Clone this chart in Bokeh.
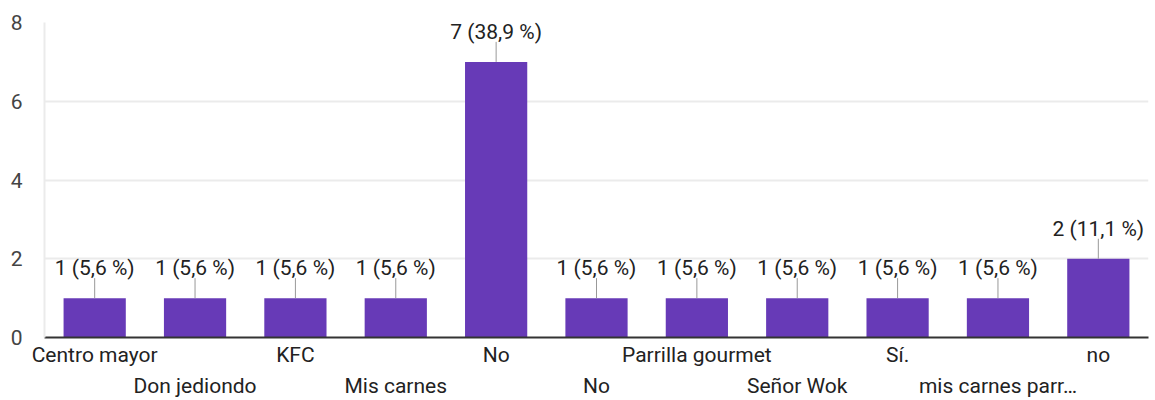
from bokeh.plotting import figure
from bokeh.models import Range1d, FixedTicker, ColumnDataSource
from bokeh.core.properties import value
from bokeh.embed import file_html
from bokeh.resources import INLINE

# Answers and how many people gave each one
categories = ["Centro mayor", "Don jediondo", "KFC", "Mis carnes", "No", "No",
              "Parrilla gourmet", "Señor Wok", "Sí.", "mis carnes parr…", "no"]
counts = [1, 1, 1, 1, 7, 1, 1, 1, 1, 1, 2]
y_ticks = [0, 2, 4, 6, 8]

total = sum(counts)
positions = list(range(len(categories)))
labels = [f"{c} ({c / total * 100:.1f} %)".replace(".", ",") for c in counts]

src = ColumnDataSource(dict(x=positions, top=counts, label=labels))

FONT = "Roboto"
SIZE = "21px"
BAR = "#673ab7"

p = figure(width=1155, height=400,
           x_range=Range1d(-0.5, len(categories) - 0.5),
           y_range=Range1d(0, 8),
           output_backend="svg", toolbar_location=None,
           min_border_left=44, min_border_right=7,
           min_border_top=22, min_border_bottom=63)
p.outline_line_color = None
p.background_fill_color = "white"
p.border_fill_color = "white"

p.vbar(x="x", top="top", width=0.62, source=src,
       fill_color=BAR, line_color=None)

# leader line from the bar top up to its label
p.ray(x="x", y="top", length=20, length_units="screen",
      angle=90, angle_units="deg", source=src,
      line_color="#999999", line_width=1)
p.text(x="x", y="top", text="label", source=src,
       text_align="center", text_baseline="alphabetic", y_offset=-30,
       text_font=value(FONT), text_font_size=SIZE, text_color="#222222")

# y axis
p.yaxis.ticker = FixedTicker(ticks=y_ticks)
p.yaxis.axis_line_color = "#ebebeb"
p.yaxis.axis_line_width = 2
p.yaxis.major_tick_line_color = None
p.yaxis.minor_tick_line_color = None
p.yaxis.major_tick_out = 0
p.yaxis.minor_tick_out = 0
p.yaxis.major_label_standoff = 22
p.yaxis.major_label_text_font = FONT
p.yaxis.major_label_text_font_size = SIZE
p.yaxis.major_label_text_color = "#444444"

p.xgrid.grid_line_color = None
p.ygrid.grid_line_color = "#ebebeb"
p.ygrid.grid_line_width = 2

# category labels alternate between two rows: every second one is pushed
# down a line
ax = p.xaxis[0]
ax.ticker = FixedTicker(ticks=positions)
ax.major_label_overrides = {i: (categories[i] if i % 2 == 0 else "\n" + categories[i])
                            for i in positions}
ax.axis_line_color = "#333333"
ax.axis_line_width = 2
ax.major_tick_line_color = None
ax.minor_tick_line_color = None
ax.major_tick_out = 0
ax.minor_tick_out = 0
ax.axis_label_standoff = 0
ax.major_label_standoff = 5
ax.major_label_text_line_height = 1.3
ax.major_label_text_font = FONT
ax.major_label_text_font_size = SIZE
ax.major_label_text_color = "#222222"

open("out.html", "w").write(file_html(p, INLINE))
